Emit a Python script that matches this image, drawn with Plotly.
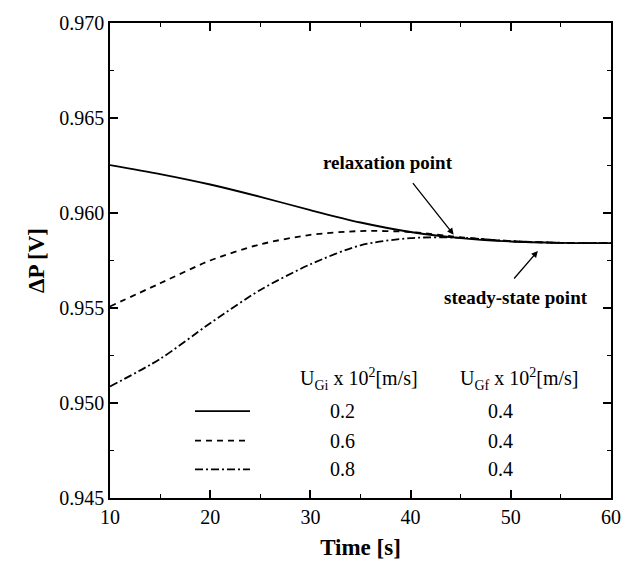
import plotly.graph_objects as go

time_s = [10, 15, 20, 25, 30, 35, 40, 45, 50, 55, 60]
dp_02 = [0.96252, 0.96205, 0.96150, 0.96085, 0.96015, 0.95950, 0.95900, 0.95868, 0.95850, 0.95843, 0.95841]
dp_06 = [0.95508, 0.95630, 0.95750, 0.95835, 0.95885, 0.95905, 0.95900, 0.95872, 0.95852, 0.95843, 0.95841]
dp_08 = [0.95087, 0.95232, 0.95420, 0.95595, 0.95730, 0.95830, 0.95868, 0.95870, 0.95852, 0.95843, 0.95841]

ugi = ["0.2", "0.6", "0.8"]
ugf = ["0.4", "0.4", "0.4"]
dashes = ["solid", "6px,5px", "8px,3px,2px,3px"]
series = [dp_02, dp_06, dp_08]

FONT = "'Liberation Serif', 'DejaVu Serif', serif"

fig = go.Figure()
for ys, d in zip(series, dashes):
    fig.add_trace(go.Scatter(x=time_s, y=ys, mode="lines",
                             line=dict(color="black", width=1.8, dash=d, shape="spline", smoothing=0.8),
                             showlegend=False, hoverinfo="skip"))

axis_common = dict(showline=True, linecolor="black", linewidth=1.5, mirror="allticks",
                   ticks="inside", ticklen=8, tickwidth=1.5, tickcolor="black",
                   showgrid=False, zeroline=False,
                   tickfont=dict(family=FONT, size=20, color="black"))

fig.update_xaxes(range=[10, 60], dtick=10, **axis_common,
                 minor=dict(ticks="inside", ticklen=4, tickwidth=1.2, dtick=5, tickcolor="black"),
                 title=dict(text="<b>Time [s]</b>", font=dict(family=FONT, size=23, color="black"), standoff=12))
fig.update_yaxes(range=[0.945, 0.970], dtick=0.005, tickformat=".3f", **axis_common,
                 minor=dict(ticks="inside", ticklen=4, tickwidth=1.2, dtick=0.0025, tickcolor="black"),
                 title=dict(text="<b>ΔP [V]</b>", font=dict(family=FONT, size=23, color="black"), standoff=8))

annotations = []
# header of custom legend
annotations.append(dict(xref="paper", yref="paper", x=(298 - 110) / 501, y=(498 - 378) / 481,
                        xanchor="left", yanchor="middle", showarrow=False,
                        text="U<sub>Gi</sub> x 10<sup>2</sup>[m/s]", font=dict(family=FONT, size=20, color="black")))
annotations.append(dict(xref="paper", yref="paper", x=(458 - 110) / 501, y=(498 - 378) / 481,
                        xanchor="left", yanchor="middle", showarrow=False,
                        text="U<sub>Gf</sub> x 10<sup>2</sup>[m/s]", font=dict(family=FONT, size=20, color="black")))
row_py = [410, 440, 469]
shapes = []
for i, (a, b, d) in enumerate(zip(ugi, ugf, dashes)):
    yp = (498 - row_py[i]) / 481
    shapes.append(dict(type="line", xref="paper", yref="paper",
                       x0=(195 - 110) / 501, x1=(250 - 110) / 501, y0=yp, y1=yp,
                       line=dict(color="black", width=1.8, dash=d)))
    annotations.append(dict(xref="paper", yref="paper", x=(342 - 110) / 501, y=yp,
                            xanchor="center", yanchor="middle", showarrow=False, text=a,
                            font=dict(family=FONT, size=20, color="black")))
    annotations.append(dict(xref="paper", yref="paper", x=(500 - 110) / 501, y=yp,
                            xanchor="center", yanchor="middle", showarrow=False, text=b,
                            font=dict(family=FONT, size=20, color="black")))

# arrows with labels
annotations.append(dict(x=44.3, y=0.95886, xref="x", yref="y", ax=398 - 440, ay=172 - 225,
                        showarrow=True, arrowhead=2, arrowsize=1, arrowwidth=1.3, arrowcolor="black", text=""))
annotations.append(dict(xref="paper", yref="paper", x=(388 - 110) / 501, y=(498 - 158) / 481,
                        xanchor="center", yanchor="middle", showarrow=False,
                        text="<b>relaxation point</b>", font=dict(family=FONT, size=19, color="black")))
annotations.append(dict(x=52.7, y=0.95800, xref="x", yref="y", ax=513 - 538, ay=277 - 248,
                        showarrow=True, arrowhead=2, arrowsize=1, arrowwidth=1.3, arrowcolor="black", text=""))
annotations.append(dict(xref="paper", yref="paper", x=(516 - 110) / 501, y=(498 - 295) / 481,
                        xanchor="center", yanchor="middle", showarrow=False,
                        text="<b>steady-state point</b>", font=dict(family=FONT, size=19, color="black")))

fig.update_layout(width=637, height=572, margin=dict(l=110, r=26, t=17, b=74),
                  paper_bgcolor="white", plot_bgcolor="white",
                  annotations=annotations, shapes=shapes,
                  font=dict(family=FONT, color="black"))

fig.write_html("out.html")
